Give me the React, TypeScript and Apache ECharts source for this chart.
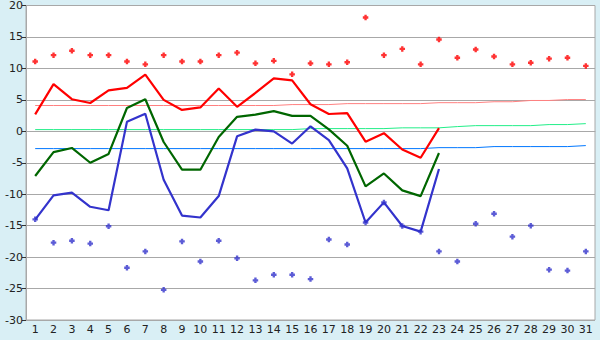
import React, { useEffect, useRef } from "react";
import * as echarts from "echarts";

const days = Array.from({ length: 31 }, (_, i) => String(i + 1));

const maxLine = [2.7, 7.5, 5.1, 4.5, 6.5, 6.9, 9.0, 5.0, 3.4, 3.8, 6.8, 3.9, 6.1, 8.4, 8.1, 4.3, 2.75, 2.9, -1.65, -0.3, -2.9, -4.2, 0.5];
const meanLine = [-7.1, -3.3, -2.65, -5.0, -3.6, 3.7, 5.1, -1.7, -6.1, -6.1, -0.9, 2.3, 2.65, 3.2, 2.45, 2.45, 0.3, -2.3, -8.75, -6.7, -9.4, -10.3, -3.45];
const minLine = [-14.05, -10.2, -9.75, -12.0, -12.55, 1.5, 2.8, -7.7, -13.4, -13.7, -10.3, -0.8, 0.27, 0.0, -1.95, 0.8, -1.4, -5.9, -14.5, -11.3, -15.05, -15.95, -6.0];

const maxRecord = [11.1, 12.1, 12.8, 12.1, 12.1, 11.1, 10.65, 12.1, 11.1, 11.1, 12.1, 12.5, 10.8, 11.2, 9.06, 10.8, 10.65, 10.97, 18.1, 12.1, 13.1, 10.65, 14.6, 11.7, 13.0, 11.9, 10.65, 10.9, 11.55, 11.7, 10.4];
const minRecord = [-14.0, -17.7, -17.4, -17.85, -15.1, -21.7, -19.1, -25.2, -17.5, -20.7, -17.4, -20.2, -23.7, -22.8, -22.8, -23.5, -17.2, -18.0, -14.5, -11.3, -15.05, -15.95, -19.1, -20.7, -14.7, -13.1, -16.75, -15.0, -22.0, -22.15, -19.1];

const normalHigh = [4.1, 4.1, 4.1, 4.1, 4.1, 4.1, 4.1, 4.1, 4.1, 4.1, 4.1, 4.1, 4.1, 4.1, 4.25, 4.25, 4.25, 4.4, 4.4, 4.4, 4.4, 4.4, 4.55, 4.55, 4.55, 4.7, 4.7, 4.9, 4.9, 5.05, 5.05];
const normalMean = [0.27, 0.27, 0.27, 0.27, 0.27, 0.27, 0.27, 0.27, 0.27, 0.27, 0.27, 0.27, 0.27, 0.27, 0.27, 0.43, 0.43, 0.43, 0.43, 0.43, 0.55, 0.55, 0.55, 0.75, 0.9, 0.9, 0.9, 0.9, 1.07, 1.07, 1.22];
const normalLow = [-2.75, -2.75, -2.75, -2.75, -2.75, -2.75, -2.75, -2.75, -2.75, -2.75, -2.75, -2.75, -2.75, -2.75, -2.75, -2.75, -2.75, -2.75, -2.75, -2.75, -2.75, -2.75, -2.6, -2.6, -2.6, -2.43, -2.43, -2.43, -2.43, -2.43, -2.27];

const yTicks = { min: -30, max: 20, interval: 5 };

const plusSymbol = "path://M2,0H5V2H7V5H5V7H2V5H0V2H2Z";

export default function App() {
  const ref = useRef<HTMLDivElement>(null);
  useEffect(() => {
    if (!ref.current) return;
    const chart = echarts.init(ref.current, null, { renderer: "svg" });
    const font = { fontFamily: "DejaVu Sans", fontSize: 11, color: "#222" };
    const normal = (data: number[], color: string) => ({
      type: "line",
      data,
      symbol: "none",
      lineStyle: { color, width: 1 },
      z: 1,
    });
    const main = (data: number[], color: string) => ({
      type: "line",
      data,
      symbol: "none",
      lineStyle: { color, width: 2.2 },
      z: 3,
    });
    const rec = (data: number[], color: string) => ({
      type: "scatter",
      data,
      symbol: plusSymbol,
      symbolSize: 5.5,
      itemStyle: { color },
      z: 4,
    });
    chart.setOption({
      animation: false,
      backgroundColor: "#d9eff5",
      grid: {
        left: 26,
        right: 5,
        top: 5,
        bottom: 20,
        show: true,
        backgroundColor: "#ffffff",
        borderColor: "#a8a8a8",
        borderWidth: 1,
      },
      xAxis: {
        type: "category",
        data: days,
        boundaryGap: true,
        axisLine: { lineStyle: { color: "#a8a8a8", width: 1 } },
        axisTick: { alignWithLabel: true, length: 5, lineStyle: { color: "#333" } },
        axisLabel: { ...font, margin: 4, interval: 0 },
        splitLine: { show: false },
      },
      yAxis: {
        type: "value",
        min: yTicks.min,
        max: yTicks.max,
        interval: yTicks.interval,
        axisLine: { show: true, lineStyle: { color: "#a8a8a8", width: 1 } },
        axisTick: { show: true, length: 4, lineStyle: { color: "#333" } },
        axisLabel: { ...font, margin: 3 },
        splitLine: { lineStyle: { color: "#a8a8a8", width: 1 } },
      },
      series: [
        normal(normalHigh, "#ff8080"),
        normal(normalMean, "#22ee88"),
        normal(normalLow, "#0077ff"),
        main(maxLine, "#ff0000"),
        main(meanLine, "#006600"),
        main(minLine, "#3333cc"),
        rec(maxRecord, "#ff0000"),
        rec(minRecord, "#3333cc"),
      ],
    });
    return () => chart.dispose();
  }, []);
  return (
    <div
      ref={ref}
      style={{ position: "absolute", left: 0, top: 0, width: 600, height: 340 }}
    />
  );
}
